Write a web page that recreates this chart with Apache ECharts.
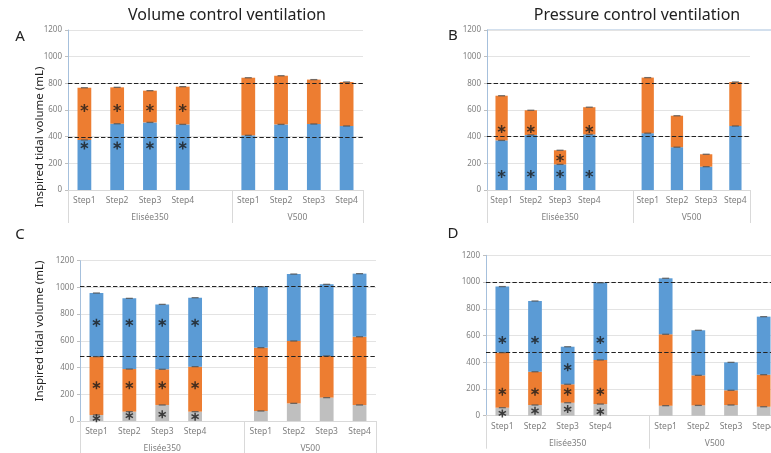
<!DOCTYPE html>
<html><head><meta charset="utf-8">
<script src="https://cdn.jsdelivr.net/npm/echarts@6/dist/echarts.min.js"></script>
<style>html,body{margin:0;padding:0;background:#fff}#c{width:771px;height:453px}</style>
</head><body><div id="c"></div>
<script>
// ---- data ----
const categories = ['Step1','Step2','Step3','Step4','','Step1','Step2','Step3','Step4'];
const groupNames = ['Elisée350','V500'];
const groupCenters = [2.5, 7];
const groupBounds = [0, 5, 9];
const yTicks = [0, 200, 400, 600, 800, 1000, 1200];

// Panel A: Volume control ventilation, first ventilator (blue bottom, orange top)
const aBlue   = [375, 497, 507, 492, null, 410, 492, 495, 480];
const aOrange = [392, 273, 238, 283, null, 432, 365, 333, 330];
const aRef    = [800, 395];
const aStars  = [[0,615],[1,615],[2,615],[3,615],[0,333],[1,333],[2,333],[3,333]];

// Panel B: Pressure control ventilation
const bBlue   = [372, 413, 192, 417, null, 426, 321, 175, 480];
const bOrange = [335, 185, 106, 204, null, 417, 236, 93, 330];
const bRef    = [800, 405];
const bStars  = [[0,457],[1,457],[2,240],[3,457],[0,120],[1,120],[2,120],[3,120]];

// Panel C: volume control (gray bottom, orange, blue top)
const cGray   = [45, 70, 120, 70, null, 75, 132, 175, 120];
const cOrange = [437, 319, 267, 337, null, 474, 467, 312, 511];
const cBlue   = [476, 529, 486, 516, null, 456, 501, 536, 472];
const cRef    = [1005, 482];
const cStars  = [[0,736],[1,736],[2,736],[3,736],[0,267],[1,267],[2,267],[3,267],[0,20],[1,40],[2,50],[3,32]];

// Panel D: pressure control (gray bottom, orange, blue top)
const dGray   = [60, 80, 97, 87, null, 75, 77, 80, 67];
const dOrange = [412, 249, 138, 330, null, 534, 225, 110, 240];
const dBlue   = [494, 529, 281, 578, null, 419, 337, 209, 434];
const dRef    = [995, 474];
const dStars  = [[0,566],[1,566],[2,362],[3,566],[0,180],[1,180],[2,180],[3,180],[0,17],[1,37],[2,50],[3,30]];

// ---- styles ----
const BLUE = '#5B9BD5', ORANGE = '#ED7D31', GRAY = '#BFBFBF';
const FONT = 'Noto Sans';
const STAR = 'path://M-0.9,-5L0.9,-5L0.9,5L-0.9,5Z M3.88,-3.279L4.78,-1.721L-3.88,3.279L-4.78,1.721Z M4.78,1.721L3.88,3.279L-4.78,-1.721L-3.88,-3.279Z';

const grids = [
  {left: 68,  top: 30,    width: 295, height: 160},
  {left: 487, top: 30,    width: 263, height: 160},
  {left: 80,  top: 260.7, width: 296, height: 160.3},
  {left: 486, top: 255.3, width: 294, height: 160.4}
].map(g => Object.assign({outerBoundsMode: 'none', containLabel: false}, g));
const panels = [
  {layers: [aBlue, aOrange],        colors: [BLUE, ORANGE],       ref: aRef, stars: aStars},
  {layers: [bBlue, bOrange],        colors: [BLUE, ORANGE],       ref: bRef, stars: bStars},
  {layers: [cGray, cOrange, cBlue], colors: [GRAY, ORANGE, BLUE], ref: cRef, stars: cStars},
  {layers: [dGray, dOrange, dBlue], colors: [GRAY, ORANGE, BLUE], ref: dRef, stars: dStars}
];

const xAxis = [], yAxis = [], series = [];
panels.forEach((p, i) => {
  xAxis.push({
    type: 'category', gridIndex: i, data: categories,
    axisLine: {lineStyle: {color: '#D9D9D9'}},
    axisTick: {show: false},
    axisLabel: {fontFamily: FONT, fontSize: 8.5, color: '#7F7F7F', margin: 6, interval: 0, hideOverlap: false}
  });
  xAxis.push({
    type: 'value', gridIndex: i, min: 0, max: 9, position: 'bottom',
    axisLine: {show: false}, splitLine: {show: false},
    axisTick: {show: true, customValues: groupBounds, length: 33, lineStyle: {color: '#D9D9D9'}},
    axisLabel: {customValues: groupCenters, fontFamily: FONT, fontSize: 8.5, color: '#7F7F7F', margin: 23,
      formatter: v => groupNames[groupCenters.indexOf(v)]}
  });
  yAxis.push({
    type: 'value', gridIndex: i, min: yTicks[0], max: yTicks[yTicks.length-1], interval: 200,
    axisLine: {show: true, lineStyle: {color: '#A6C0DC'}},
    axisTick: {show: true, length: 3, lineStyle: {color: '#BFBFBF'}},
    splitLine: {lineStyle: {color: '#E3E3E3'}},
    axisLabel: {fontFamily: FONT, fontSize: 8, color: '#7F7F7F', margin: 6, formatter: v => String(v)}
  });
  const stack = 'st' + i;
  const cum = categories.map(() => 0);
  const caps = [];
  p.layers.forEach((arr, k) => {
    const s = {
      type: 'bar', xAxisIndex: 2*i, yAxisIndex: i, stack: stack, data: arr,
      barWidth: '42%', itemStyle: {color: p.colors[k]}, silent: true, animation: false
    };
    if (k === p.layers.length - 1) {
      s.markLine = {
        silent: true, symbol: 'none', animation: false,
        label: {show: false},
        lineStyle: {type: 'dashed', color: '#222', width: 1.1},
        data: p.ref.map(v => ({yAxis: v}))
      };
    }
    series.push(s);
    arr.forEach((v, j) => { if (v != null) { cum[j] += v; caps.push([j, cum[j]]); } });
  });
  series.push({
    type: 'scatter', xAxisIndex: 2*i, yAxisIndex: i, data: caps,
    symbol: 'rect', symbolSize: [7, 1.3], itemStyle: {color: '#505050'}, z: 5, silent: true, animation: false
  });
  series.push({
    type: 'scatter', xAxisIndex: 2*i, yAxisIndex: i, data: p.stars,
    symbol: STAR, symbolSize: 8, itemStyle: {color: '#1a1a1a'}, z: 6, silent: true, animation: false
  });
});

const txt = (text, x, y, size, extra) => Object.assign({
  type: 'text', x: x, y: y, silent: true,
  style: {text: text, fill: '#222', font: size + 'px "' + FONT + '"', align: 'center', verticalAlign: 'middle'}
}, extra || {});

const graphic = [
  txt('Volume control ventilation', 227, 15, 16),
  txt('Pressure control ventilation', 637, 15, 16),
  txt('A', 20, 37, 15), txt('B', 453, 36, 15), txt('C', 20, 235, 15), txt('D', 453, 234, 15),
  txt('Inspired tidal volume (mL)', 40, 137, 11.5, {rotation: Math.PI/2}),
  txt('Inspired tidal volume (mL)', 40, 331, 11.5, {rotation: Math.PI/2}),
  {type: 'line', silent: true, shape: {x1: 487, y1: 30, x2: 771, y2: 30}, style: {stroke: '#A6C0DC', lineWidth: 1}}
];

const chart = echarts.init(document.getElementById('c'), null, {renderer: 'canvas'});
chart.setOption({
  animation: false,
  grid: grids, xAxis: xAxis, yAxis: yAxis, series: series, graphic: graphic
});
</script>
</body></html>
